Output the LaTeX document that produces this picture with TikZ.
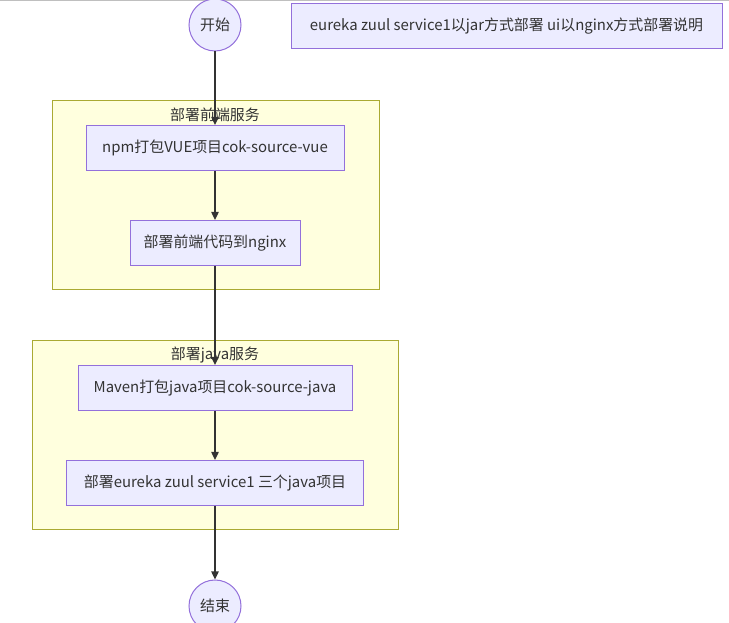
\documentclass[tikz,border=0pt]{standalone}
\usepackage{fontspec}
\setmainfont{Noto Sans CJK SC}
\usetikzlibrary{arrows.meta}
\definecolor{nodefill}{HTML}{ECECFF}
\definecolor{nodeline}{HTML}{9370DB}
\definecolor{groupfill}{HTML}{FFFFDE}
\definecolor{groupline}{HTML}{AAAA33}
\definecolor{ink}{HTML}{333333}

\begin{document}
\begin{tikzpicture}[
	x=0.75pt, y=-0.75pt,
	box/.style={
		draw=nodeline, fill=nodefill, line width=0.75pt, rectangle,
		minimum height=33.75pt, inner xsep=4pt,
		font=\fontsize{11.2}{13}\selectfont, text=ink
	},
	term/.style={box, circle, minimum size=39pt, inner sep=0pt},
	group/.style={draw=groupline, fill=groupfill, line width=0.75pt},
	title/.style={font=\fontsize{11.2}{13}\selectfont, text=ink, inner sep=1pt},
	edge/.style={-{Triangle[length=6pt, width=5.5pt]}, draw=ink, fill=ink, line width=1pt},
	]
	
	\useasboundingbox (0,0) rectangle (729,623);
	\draw[black!25, line width=1pt] (0,0.5) -- (729,0.5);
	
	% subgraphs
	\draw[group] (52,101) rectangle (379,290);
	\node[title] (fronttitle) at (215,115) {部署前端服务};
	\draw[group] (32,341) rectangle (398,530);
	\node[title] (javatitle) at (215,355) {部署java服务};
	
	\node[term] (start) at (215,25)  {开始};
	\node[box, minimum width=323.25pt] (note) at (506.5,26) {eureka zuul service1以jar方式部署 ui以nginx方式部署说明};
	\node[box, minimum width=193.5pt]  (npm)    at (215,148) {npm打包VUE项目cok-source-vue};
	\node[box, minimum width=127.5pt]  (nginx)  at (215,243) {部署前端代码到nginx};
	\node[box, minimum width=205.5pt]  (maven)  at (215,388) {Maven打包java项目cok-source-java};
	\node[box, minimum width=222.75pt] (deploy) at (215,483) {部署eureka zuul service1 三个java项目};
	\node[term] (stop)  at (215,606) {结束};
	
	\draw[edge] (start)  -- (npm);
	\draw[edge] (npm)    -- (nginx);
	\draw[edge] (nginx)  -- (maven);
	\draw[edge] (maven)  -- (deploy);
	\draw[edge] (deploy) -- (stop);
	
\end{tikzpicture}
\end{document}
